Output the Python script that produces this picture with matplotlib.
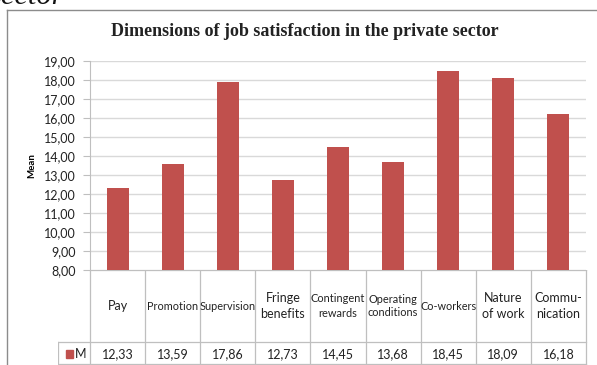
import matplotlib
matplotlib.use("Agg")
import matplotlib.pyplot as plt
import numpy as np

categories = ["Pay", "Promotion", "Supervision", "Fringe\nbenefits",
              "Contingent\nrewards", "Operating\nconditions", "Co-workers",
              "Nature\nof work", "Commu-\nnication"]
label_sizes = [9, 7.8, 7.8, 9, 7.9, 7.9, 7.8, 9, 9]
label_spacing = [1.3, 1.3, 1.3, 1.3, 1.45, 1.3, 1.3, 1.3, 1.3]
values = [12.33, 13.59, 17.86, 12.73, 14.45, 13.68, 18.45, 18.09, 16.18]
series_name = "M"
yticks = np.arange(8, 20, 1)

W, H = 597, 365
bar_color = "#c0504d"
grid_color = "#d9d9d9"
line_color = "#bfbfbf"
text_color = "#222222"

plt.rcParams["font.family"] = ["Lato", "DejaVu Sans"]

fig = plt.figure(figsize=(W / 100, H / 100), dpi=100)


def fx(px):
    return px / W


def fy(py):
    return 1 - py / H


def comma(v):
    return f"{v:.2f}".replace(".", ",")


# plot area
left, right, top, bottom = 90, 586, 60.7, 270
ax = fig.add_axes([fx(left), fy(bottom), fx(right - left), fy(top) - fy(bottom)])
x = np.arange(len(values))
ax.bar(x, values, width=0.4, color=bar_color, zorder=3)
ax.set_xlim(-0.5, len(values) - 0.5)
ax.set_ylim(8, 19)
ax.set_yticks(yticks)
ax.set_yticklabels([comma(v) for v in yticks], fontsize=9, color=text_color)
ax.yaxis.grid(True, color=grid_color, linewidth=1, zorder=0)
ax.set_xticks([])
for s in ["top", "right", "bottom"]:
    ax.spines[s].set_visible(False)
ax.spines["left"].set_color(line_color)
ax.tick_params(axis="y", length=5, color=line_color, pad=5)
ax.set_ylabel("Mean", fontsize=7, fontweight="bold", labelpad=6)

# data table under the plot
unit = (right - left) / len(values)
tab_left = 58
tab = fig.add_axes([fx(tab_left), 0, fx(W - tab_left), fy(bottom)])
x0 = -0.5 - (left - tab_left) / unit
tab.set_xlim(x0, -0.5 + (W - left) / unit)
tab.set_ylim(H, bottom)
tab.axis("off")
row_split, row_end = 342, 364
n = len(values)
lw = 0.9
tab.plot([-0.5, n - 0.5], [bottom, bottom], color=line_color, lw=lw)
tab.plot([x0, n - 0.5], [row_split, row_split], color=line_color, lw=lw)
tab.plot([x0, n - 0.5], [row_end, row_end], color=line_color, lw=lw)
for i in range(n + 1):
    tab.plot([i - 0.5, i - 0.5], [bottom, row_end], color=line_color, lw=lw)
tab.plot([x0, x0], [row_split, row_end], color=line_color, lw=lw)

for i, (cat, sz, sp, v) in enumerate(zip(categories, label_sizes, label_spacing, values)):
    tab.text(i, 306, cat, ha="center", va="center", fontsize=sz, color=text_color, linespacing=sp)
    tab.text(i, 354, comma(v), ha="center", va="center", fontsize=9, color=text_color)

# legend key in the first cell
tab.add_patch(plt.Rectangle((x0 + 8 / unit, 350), 7 / unit, 8, color=bar_color, clip_on=False))
tab.text(x0 + 17 / unit, 354, series_name, ha="left", va="center", fontsize=9, color=text_color)

# chart frame and title
fig.add_artist(plt.Line2D([fx(7), fx(7)], [fy(10), 0], color="#8c8c8c", lw=1))
fig.add_artist(plt.Line2D([fx(7), 1], [fy(10), fy(10)], color="#8c8c8c", lw=1))
fig.text(fx(305), fy(32), "Dimensions of job satisfaction in the private sector",
         ha="center", va="center", fontsize=13, fontweight="bold",
         family=["Liberation Serif"], color=text_color)
fig.text(fx(-10), fy(4), "sector", ha="left", va="baseline", fontsize=22,
         style="italic", family=["Liberation Serif"], color="#111111")

fig.savefig("out.png", dpi=100)
